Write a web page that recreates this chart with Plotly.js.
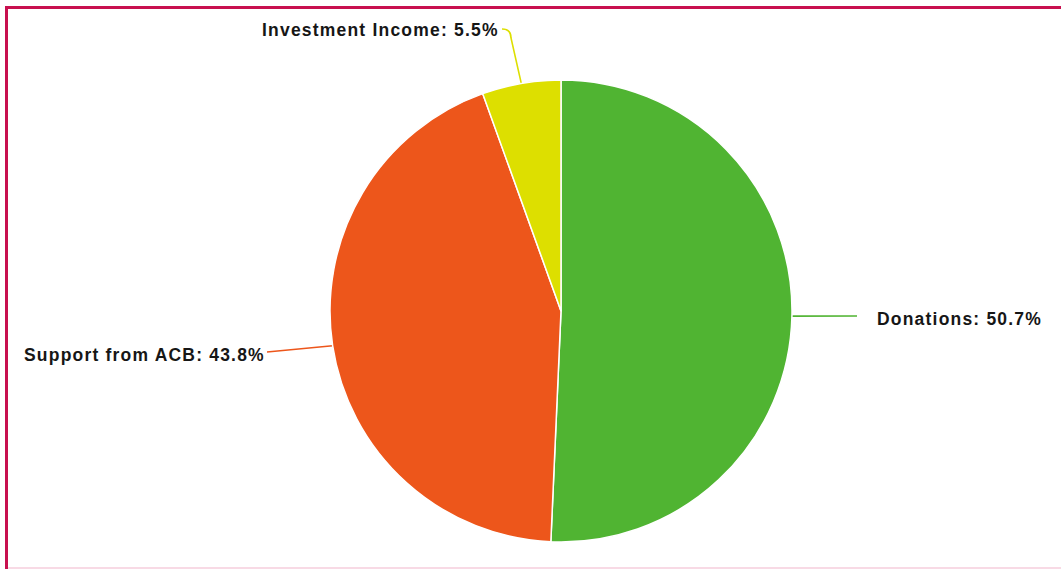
<!DOCTYPE html>
<html>
<head>
<meta charset="utf-8">
<script src="https://cdn.plot.ly/plotly-3.0.1.min.js"></script>
<style>
  html, body { margin: 0; padding: 0; background: #fff; }
  #chart { width: 1061px; height: 569px; }
  .annotation-text { letter-spacing: 1.2px; }
</style>
</head>
<body>
<div id="chart"></div>
<script>
// ---- data ----
const categories = ["Donations", "Support from ACB", "Investment Income"];
const shares = [50.7, 43.8, 5.5];
const sliceColors = ["#50B432", "#ED561B", "#DDDF00"];

// ---- layout constants (pixels) ----
const W = 1061, H = 569;
const CX = 561, CY = 311, R = 231;
// label placement per slice: connector end point and text anchor (pixel offsets)
const labelStyle = [
  { side: "right", end: [857, 316], text: [875, 319], bend: null },
  { side: "left",  end: [267, 352], text: [267, 355], bend: null },
  { side: "left",  end: [502, 29],  text: [501, 30],  bend: [511, 29, 511, 38] }
];

const px = x => x / W;
const py = y => 1 - y / H;

const total = shares.reduce((a, b) => a + b, 0);
const shapes = [];
const annotations = [];
let cum = 0;
shares.forEach((v, i) => {
  const mid = (cum + v / 2) / total * 2 * Math.PI; // clockwise from 12 o'clock
  cum += v;
  const ex = CX + R * Math.sin(mid);
  const ey = CY - R * Math.cos(mid);
  const s = labelStyle[i];
  let path;
  if (s.bend) {
    path = `M ${px(ex)} ${py(ey)} L ${px(s.bend[2])} ${py(s.bend[3])} Q ${px(s.bend[0])} ${py(s.bend[1])} ${px(s.end[0])} ${py(s.end[1])}`;
  } else {
    path = `M ${px(ex)} ${py(ey)} L ${px(s.end[0])} ${py(s.end[1])}`;
  }
  shapes.push({
    type: "path", xref: "paper", yref: "paper", path: path,
    line: { color: sliceColors[i], width: 1.6 }, layer: "below"
  });
  annotations.push({
    xref: "paper", yref: "paper", x: px(s.text[0]), y: py(s.text[1]),
    xanchor: s.side === "right" ? "left" : "right", yanchor: "middle",
    showarrow: false,
    text: categories[i] + ": " + v.toFixed(1) + "%",
    font: { family: "Liberation Sans, Arial, sans-serif", size: 17.5, color: "#161616", weight: "bold" }
  });
});

// frame
shapes.push(
  { type: "line", xref: "paper", yref: "paper", x0: px(6.5), x1: px(6.5), y0: py(6), y1: py(569), line: { color: "#C8104F", width: 3 } },
  { type: "line", xref: "paper", yref: "paper", x0: px(5), x1: px(1061), y0: py(7.5), y1: py(7.5), line: { color: "#C8104F", width: 3 } },
  { type: "line", xref: "paper", yref: "paper", x0: px(8), x1: px(1061), y0: py(568), y1: py(568), line: { color: "#F8DAE5", width: 2 } }
);

const trace = {
  type: "pie",
  labels: categories,
  values: shares,
  sort: false,
  direction: "clockwise",
  rotation: 0,
  marker: { colors: sliceColors, line: { color: "#ffffff", width: 1.5 } },
  textinfo: "none",
  hoverinfo: "label+percent",
  showlegend: false,
  domain: { x: [px(CX - R), px(CX + R)], y: [py(CY + R), py(CY - R)] }
};

const layout = {
  width: W, height: H,
  margin: { l: 0, r: 0, t: 0, b: 0 },
  paper_bgcolor: "#ffffff",
  showlegend: false,
  shapes: shapes,
  annotations: annotations
};

Plotly.newPlot("chart", [trace], layout, { displayModeBar: false, staticPlot: true });
</script>
</body>
</html>
